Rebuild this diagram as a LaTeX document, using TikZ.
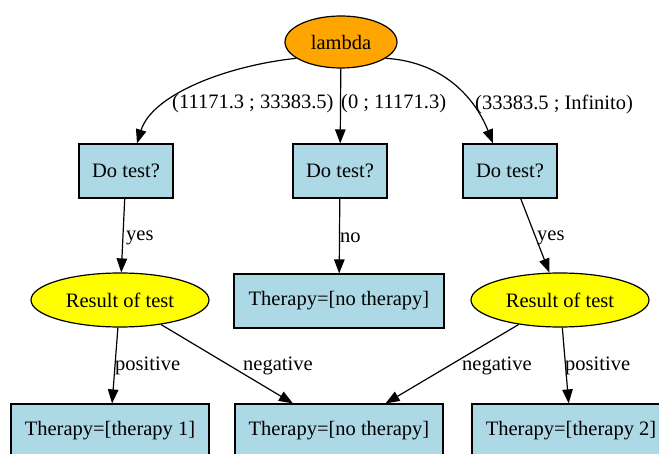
\documentclass[tikz,border=0pt]{standalone}
\usepackage{fontspec}
\setmainfont{Liberation Serif}
\usetikzlibrary{arrows.meta,shapes.geometric}
\definecolor{boxblue}{RGB}{173,216,230}
\definecolor{lamorange}{RGB}{255,165,0}
\definecolor{resyellow}{RGB}{255,255,0}
\begin{document}
\begin{tikzpicture}[x=1pt,y=-1pt,
  every node/.style={font=\fontsize{20.5}{24}\selectfont, inner sep=0pt},
  box/.style={draw, fill=boxblue, line width=1.2pt, minimum height=54pt},
  oval/.style={draw, ellipse, line width=1.2pt, minimum height=54pt},
  edge/.style={line width=1.2pt, -{Triangle[length=14pt,width=10.5pt]}},
  elabel/.style={anchor=west}]
\useasboundingbox (0,0) rectangle (659,454);
\clip (0,0) rectangle (659,454);

% root
\node[oval, fill=lamorange, minimum width=112pt, minimum height=52pt] (lam) at (341,42) {lambda};

% decision boxes
\node[box, minimum width=94pt] (ldo) at (126,171) {Do test?};
\node[box, minimum width=94pt] (mdo) at (340,171) {Do test?};
\node[box, minimum width=94pt] (rdo) at (510,171) {Do test?};

% test results and direct therapy
\node[oval, fill=resyellow, minimum width=178pt] (lres) at (120,300) {Result of test};
\node[box, minimum width=210pt] (mnot) at (339,301) {Therapy=[no therapy]};
\node[oval, fill=resyellow, minimum width=178pt] (rres) at (560,300) {Result of test};

% final therapies
\node[box, minimum width=198pt] (t1) at (110,431) {Therapy=[therapy 1]};
\node[box, minimum width=208pt] (mno2) at (339,431) {Therapy=[no therapy]};
\node[box, minimum width=198pt] (t2) at (571,431) {Therapy=[therapy 2]};

% edges from the root
\draw[edge] (lam.200) .. controls (225,66) and (152,95) .. ([xshift=11pt]ldo.north);
\draw[edge] (lam) -- (mdo);
\draw[edge] (lam.-20) .. controls (445,62) and (476,100) .. ([xshift=-17pt]rdo.north);

% remaining edges
\draw[edge] (ldo) -- (lres);
\draw[edge] (mdo) -- (mnot);
\draw[edge] (rdo) -- (rres);
\draw[edge] (lres) -- (t1);
\draw[edge] (lres) -- (mno2);
\draw[edge] (rres) -- (mno2);
\draw[edge] (rres) -- (t2);

% edge labels
\node[elabel] (lab1) at (172,104) {(11171.3 ; 33383.5)};
\node[elabel] (lab2) at (341,104) {(0 ; 11171.3)};
\node[elabel] (lab3) at (475,104) {(33383.5 ; Infinito)};
\node[elabel] (yes1) at (126,238) {yes};
\node[elabel] (no1) at (340,238) {no};
\node[elabel] (yes2) at (537,238) {yes};
\node[elabel] (pos1) at (115,366) {positive};
\node[elabel] (neg1) at (243,366) {negative};
\node[elabel] (neg2) at (462,366) {negative};
\node[elabel] (pos2) at (565,366) {positive};
\end{tikzpicture}
\end{document}
